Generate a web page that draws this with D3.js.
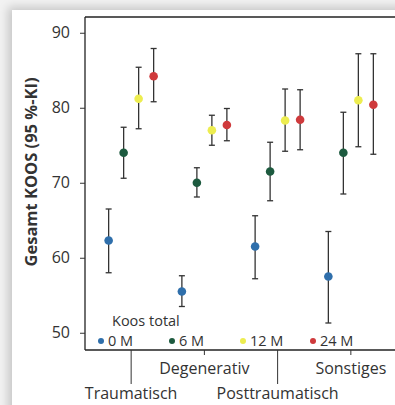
<!DOCTYPE html>
<html>
<head>
<meta charset="utf-8">
<script src="https://cdn.jsdelivr.net/npm/d3@7"></script>
<style>
  html, body { margin: 0; padding: 0; overflow: hidden; width: 100%; height: 100%; background: #f2f2f2; }
  body { position: relative; }
  #card { position: absolute; left: 12px; top: 10px; right: -30px; bottom: -30px; background: #fff;
          box-shadow: -4px -3px 9px rgba(0,0,0,0.18); }
  svg { position: absolute; left: 0; top: 0; }
  text { font-family: "Open Sans", sans-serif; fill: #333; }
</style>
</head>
<body>
<div id="card"></div>
<svg id="chart" width="440" height="405"></svg>
<script>
const categories = ["Traumatisch", "Degenerativ", "Posttraumatisch", "Sonstiges"];
const seriesNames = ["0 M", "6 M", "12 M", "24 M"];
const seriesColors = ["#2f6fab", "#1d5a3f", "#eded50", "#cf3a3c"];
// mean values per series (rows) across categories (columns)
const means = [
  [62.3, 55.5, 61.5, 57.5],
  [74.0, 70.0, 71.5, 74.0],
  [81.2, 77.0, 78.3, 81.0],
  [84.2, 77.7, 78.4, 80.4]
];
const lower = [
  [58.0, 53.5, 57.2, 51.3],
  [70.6, 68.1, 67.6, 68.5],
  [77.2, 75.0, 74.2, 74.8],
  [80.8, 75.6, 74.4, 73.8]
];
const upper = [
  [66.5, 57.6, 65.6, 63.5],
  [77.4, 72.0, 75.4, 79.4],
  [85.4, 79.0, 82.5, 87.2],
  [87.9, 79.9, 82.4, 87.2]
];
const yTicks = [50, 60, 70, 80, 90];
const yTitle = "Gesamt KOOS (95 %-KI)";
const legendTitle = "Koos total";

const svg = d3.select("#chart");
const L = 85, T = 17, R = 397, B = 350;

const x = d3.scalePoint().domain(categories).range([L, R]).padding(0.63);
const dodge = d3.scalePoint().domain(seriesNames).range([-22.5, 22.5]);
const y = d3.scaleLinear().domain([47.7, 92.1]).range([B, T]);

// plot frame (left, top, bottom; right side runs off the picture)
const frame = svg.append("g").attr("stroke", "#222").attr("stroke-width", 1.3);
frame.append("line").attr("x1", L).attr("x2", L).attr("y1", T).attr("y2", B);
frame.append("line").attr("x1", L).attr("x2", 440).attr("y1", T).attr("y2", T);
frame.append("line").attr("x1", L).attr("x2", 440).attr("y1", B).attr("y2", B);

// y axis
const yAxis = svg.append("g").attr("transform", `translate(${L},0)`)
  .call(d3.axisLeft(y).tickValues(yTicks).tickSize(5).tickPadding(10));
yAxis.select(".domain").remove();
yAxis.selectAll("line").attr("stroke", "#333");
yAxis.selectAll("text").style("font-size", "16px").style("font-family", "'Open Sans', sans-serif").attr("fill", "#333");

// x axis ticks (alternating long/short)
const xAxis = svg.append("g");
categories.forEach((c, i) => {
  const long = i % 2 === 0;
  xAxis.append("line").attr("x1", x(c)).attr("x2", x(c)).attr("y1", B)
    .attr("y2", long ? B + 34 : B + 5).attr("stroke", "#333").attr("stroke-width", 1);
  xAxis.append("text").attr("x", x(c)).attr("y", long ? B + 49 : B + 24)
    .attr("text-anchor", "middle").style("font-size", "16px").text(c);
});

// y title
svg.append("text").attr("transform", `translate(37,172) rotate(-90)`)
  .attr("text-anchor", "middle").style("font-size", "16.5px").style("font-weight", "bold")
  .text(yTitle);

// error bars and points
seriesNames.forEach((s, si) => {
  const g = svg.append("g");
  categories.forEach((c, ci) => {
    const cx = x(c) + dodge(s);
    g.append("line").attr("x1", cx).attr("x2", cx).attr("y1", y(lower[si][ci])).attr("y2", y(upper[si][ci]))
      .attr("stroke", "#333").attr("stroke-width", 1.3);
    [lower[si][ci], upper[si][ci]].forEach(v => {
      g.append("line").attr("x1", cx - 3).attr("x2", cx + 3).attr("y1", y(v)).attr("y2", y(v))
        .attr("stroke", "#333").attr("stroke-width", 1.3);
    });
    g.append("circle").attr("cx", cx).attr("cy", y(means[si][ci])).attr("r", 4.3)
      .attr("fill", seriesColors[si]);
  });
});

// legend
const lg = svg.append("g");
lg.append("text").attr("x", 112).attr("y", 326).style("font-size", "14.5px").text(legendTitle);
const legX = [101, 172, 243, 313];
seriesNames.forEach((s, i) => {
  lg.append("circle").attr("cx", legX[i]).attr("cy", 341).attr("r", 3).attr("fill", seriesColors[i]);
  lg.append("text").attr("x", legX[i] + 7).attr("y", 346).style("font-size", "14.5px").text(s);
});
</script>
</body>
</html>
